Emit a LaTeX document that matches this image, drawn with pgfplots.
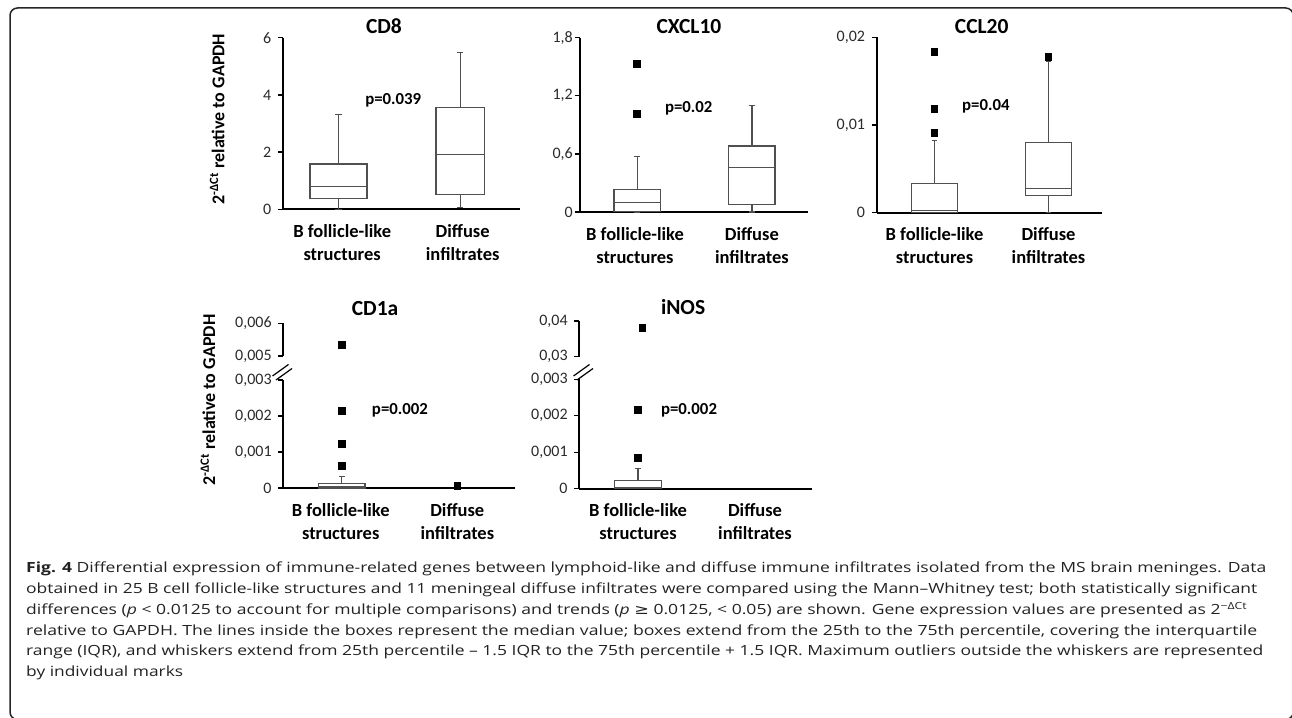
\documentclass[border=0pt]{standalone}
\usepackage{fontspec}
\setmainfont{Carlito}
\newfontfamily\capfont{Open Sans}
\newfontfamily\dejavu{DejaVu Sans}
\usepackage{graphicx}
\usepackage{pgfplots}
\pgfplotsset{compat=1.18}
\usepgfplotslibrary{statistics}

\definecolor{boxgray}{HTML}{505050}
\definecolor{tickgray}{HTML}{2A2A2A}
\definecolor{capgray}{HTML}{222222}

\tikzset{ptext/.style={font=\fontsize{16.8}{17}\selectfont\bfseries, inner sep=0pt}}

\pgfplotsset{
  common/.style={
    scale only axis, anchor=south west, clip=false,
    scaled ticks=false,
    boxplot/draw direction=y,
    axis lines=left,
    axis line style={-, line width=2pt, black},
    x axis line style={-}, y axis line style={-},
    tick align=outside,
    major tick length=5pt,
    ytick style={line width=1.4pt, black},
    yticklabel style={font=\fontsize{16}{16}\selectfont, text=tickgray, inner sep=6.5pt},
    title style={font=\fontsize{21.5}{22}\selectfont\bfseries, anchor=base, yshift=0pt, inner sep=0pt},
  },
  panel/.style={
    common,
    xtick style={draw=none},
    xtick={1,2},
    xticklabels={{B follicle-like\\structures},{Diffuse\\infiltrates}},
    x tick label style={font=\fontsize{18.5}{23}\selectfont\bfseries, align=center, inner sep=0pt, anchor=north, yshift=-10pt},
    every axis y label/.style={rotate=90, anchor=center, font=\fontsize{18}{20}\selectfont\bfseries},
  },
  upper/.style={
    common,
    axis x line=none,
    xtick=\empty,
  },
  bx/.style={draw=boxgray, line width=1.3pt, solid, mark=square*, mark size=3.3pt,
    mark options={fill=black, draw=black, solid}},
  om/.style={only marks, mark=square*, mark size=3.3pt, mark options={fill=black, draw=black, solid}},
}

\newcommand\capline[3]{\node[anchor=base west, inner sep=0pt, text=capgray] at (26pt,#1pt)
  {\resizebox{#2pt}{\height}{\capfont\fontsize{14}{14}\selectfont #3}};}

\begin{document}
\begin{tikzpicture}
\useasboundingbox (0pt,0pt) rectangle (1292pt,717pt);
\draw[line width=1.5pt, black!85, rounded corners=7.5pt] (10pt,-2.5pt) rectangle (1293.2pt,709pt);

% ---------------- CD8
\begin{axis}[panel, at={(283pt,507.7pt)}, width=237pt, height=171.6pt,
  xmin=0.544, xmax=2.491, ymin=0, ymax=6,
  ytick={0,2,4,6}, yticklabels={0,2,4,6},
  xtick={1.03,2.02},
  title=CD8, title style={at={(axis description cs:0.426,0.991)}},
  ylabel={2\textsuperscript{-ΔCt} relative to GAPDH},
  ylabel style={at={(axis description cs:-0.278,0.526)}}]
\addplot[bx, boxplot prepared={draw position=1, box extend=0.466, whisker extend=0.05,
  lower whisker=0, lower quartile=0.385, median=0.80, upper quartile=1.58, upper whisker=3.32}] coordinates {};
\addplot[bx, boxplot prepared={draw position=2, box extend=0.397, whisker extend=0.05,
  lower whisker=0.07, lower quartile=0.52, median=1.92, upper quartile=3.57, upper whisker=5.48}] coordinates {};
\node[ptext] at (axis cs:1.45,3.82) {p=0.039};
\end{axis}

% ---------------- CXCL10
\begin{axis}[panel, at={(580pt,505pt)}, width=228pt, height=174.3pt,
  xmin=0.5, xmax=2.49, ymin=0, ymax=1.8,
  ytick={0,0.6,1.2,1.8}, yticklabels={0,{0,6},{1,2},{1,8}},
  yticklabel style={inner sep=2pt},
  xtick={0.98,2.0},
  title=CXCL10, title style={at={(axis description cs:0.478,0.987)}}]
\addplot[bx, boxplot prepared={draw position=1, box extend=0.408, whisker extend=0.05,
  lower whisker=0, lower quartile=0.003, median=0.100, upper quartile=0.234, upper whisker=0.571}]
  coordinates {(1,1.528) (1,1.012)};
\addplot[bx, boxplot prepared={draw position=2, box extend=0.405, whisker extend=0.05,
  lower whisker=0, lower quartile=0.075, median=0.457, upper quartile=0.682, upper whisker=1.102}] coordinates {};
\node[ptext] at (axis cs:1.449,1.074) {p=0.02};
\end{axis}

% ---------------- CCL20  (values in units of 0.001)
\begin{axis}[panel, at={(876.7pt,504.3pt)}, width=225.3pt, height=175.4pt,
  xmin=0.493, xmax=2.469, ymin=0, ymax=20,
  ytick={0,10,20}, yticklabels={0,{0,01},{0,02}},
  title=CCL20, title style={at={(axis description cs:0.466,0.985)}}]
\addplot[bx, boxplot prepared={draw position=1, box extend=0.4, whisker extend=0.05,
  lower whisker=0, lower quartile=0, median=0.23, upper quartile=3.31, upper whisker=8.21}]
  coordinates {(1,18.29) (1,11.79) (1,9.12)};
\addplot[bx, boxplot prepared={draw position=2, box extend=0.4, whisker extend=0.05,
  lower whisker=0, lower quartile=1.98, median=2.74, upper quartile=8.03, upper whisker=17.3}]
  coordinates {(2,17.72)};
\node[ptext] at (axis cs:1.45,12.09) {p=0.04};
\end{axis}

% ---------------- CD1a (lower + upper)  (values in units of 0.001)
\begin{axis}[panel, at={(283.3pt,229pt)}, width=231.7pt, height=108pt,
  xmin=0.495, xmax=2.499, ymin=0, ymax=3,
  ytick={0,1,2,3}, yticklabels={0,{0,001},{0,002},{0,003}},
  xtick={0.992,2},
  ylabel={2\textsuperscript{-ΔCt} relative to GAPDH},
  ylabel style={at={(axis description cs:-0.325,0.815)}}]
\addplot[bx, boxplot prepared={draw position=1, box extend=0.404, whisker extend=0.05,
  lower whisker=0, lower quartile=0, median=0.03, upper quartile=0.13, upper whisker=0.314}]
  coordinates {(1,2.14) (1,1.22) (1,0.611)};
\addplot[om] coordinates {(2,0.0556)};
\node[ptext] at (axis cs:1.504,2.167) {p=0.002};
\end{axis}
\begin{axis}[upper, at={(283.3pt,361pt)}, width=231.7pt, height=32.7pt,
  xmin=0.495, xmax=2.499, ymin=5, ymax=6,
  ytick={5,6}, yticklabels={{0,005},{0,006}},
  title=CD1a, title style={at={(axis description cs:0.396,1.049)}}]
\addplot[om] coordinates {(1,5.34)};
\end{axis}
\draw[line width=1.2pt, black] (272.5pt,341pt) -- (288.5pt,352.5pt);
\draw[line width=1.2pt, black] (276pt,337pt) -- (292pt,348.5pt);

% ---------------- iNOS (lower + upper)  (values in units of 0.001)
\begin{axis}[panel, at={(579.3pt,228.3pt)}, width=232.7pt, height=109.4pt,
  xmin=0.498, xmax=2.487, ymin=0, ymax=3,
  ytick={0,1,2,3}, yticklabels={0,{0,001},{0,002},{0,003}}]
\addplot[bx, boxplot prepared={draw position=1, box extend=0.398, whisker extend=0.05,
  lower whisker=0, lower quartile=0, median=0.02, upper quartile=0.23, upper whisker=0.548}]
  coordinates {(1,2.158) (1,0.842)};
\node[ptext] at (axis cs:1.436,2.158) {p=0.002};
\end{axis}
\begin{axis}[upper, at={(579.3pt,360.3pt)}, width=232.7pt, height=35.7pt,
  xmin=0.498, xmax=2.487, ymin=30, ymax=40,
  ytick={30,40}, yticklabels={{0,03},{0,04}},
  title=iNOS, title style={at={(axis description cs:0.446,1.008)}}]
\addplot[om] coordinates {(1.034,38.1)};
\end{axis}
\draw[line width=1.2pt, black] (573.5pt,341pt) -- (589.5pt,352.5pt);
\draw[line width=1.2pt, black] (577pt,337pt) -- (593pt,348.5pt);

% ---------------- caption
\capline{144.3}{1240}{\textbf{Fig. 4} Differential expression of immune-related genes between lymphoid-like and diffuse immune infiltrates isolated from the MS brain meninges. Data}
\capline{123.5}{1231}{obtained in 25 B cell follicle-like structures and 11 meningeal diffuse infiltrates were compared using the Mann–Whitney test; both statistically significant}
\capline{102.7}{1221}{differences (\textit{p} < 0.0125 to account for multiple comparisons) and trends (\textit{p} {\dejavu ≥} 0.0125, < 0.05) are shown. Gene expression values are presented as 2\textsuperscript{−ΔCt}}
\capline{81.9}{1231}{relative to GAPDH. The lines inside the boxes represent the median value; boxes extend from the 25th to the 75th percentile, covering the interquartile}
\capline{61.1}{1237}{range (IQR), and whiskers extend from 25th percentile – 1.5 IQR to the 75th percentile + 1.5 IQR. Maximum outliers outside the whiskers are represented}
\capline{40.3}{157}{by individual marks}
\end{tikzpicture}
\end{document}
